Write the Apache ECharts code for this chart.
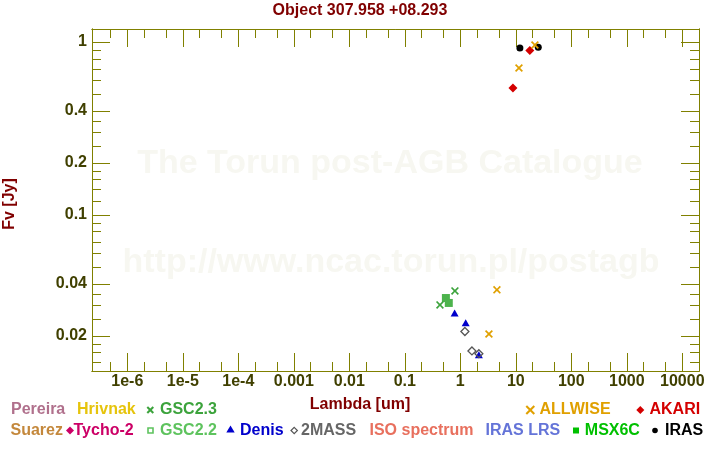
<!DOCTYPE html>
<html><head><meta charset="utf-8">
<script src="https://cdn.jsdelivr.net/npm/echarts@6/dist/echarts.min.js"></script>
<style>html,body{margin:0;padding:0;background:#fff}#c{width:720px;height:450px}</style>
</head><body><div id="c"></div>
<script>
// ---- tick positions and labels ----
const xTickValues = [1e-6, 1e-5, 1e-4, 0.001, 0.01, 0.1, 1, 10, 100, 1000, 10000];
const xTickLabels = ['1e-6', '1e-5', '1e-4', '0.001', '0.01', '0.1', '1', '10', '100', '1000', '10000'];
const xMinorTicks = [5e-7, 2e-6, 5e-6, 2e-5, 5e-5, 2e-4, 5e-4, 0.002, 0.005, 0.02, 0.05, 0.2, 0.5, 2, 5, 20, 50, 200, 500, 2000, 5000];
const yTickValues = [1, 0.4, 0.2, 0.1, 0.04, 0.02];
const yTickLabels = ['1', '0.4', '0.2', '0.1', '0.04', '0.02'];
const yMinorTicks = [0.014, 0.016, 0.018, 0.025, 0.03, 0.035, 0.05, 0.06, 0.07, 0.08, 0.09, 0.12, 0.14, 0.16, 0.18, 0.25, 0.3, 0.35, 0.5, 0.6, 0.7, 0.8, 0.9];
const xRange = [2.31e-7, 2e4];
const yRange = [0.01253, 1.189];

// ---- photometry: wavelength [um], flux [Jy] ----
const gsc22Lambda = [0.55, 0.62];
const gsc22Flux = [0.0331, 0.0310];
const gsc23Lambda = [0.43, 0.80];
const gsc23Flux = [0.0302, 0.0364];
const denisLambda = [0.79, 1.25, 2.16];
const denisFlux = [0.0271, 0.0238, 0.01557];
const twoMassLambda = [1.21, 1.62, 2.16];
const twoMassFlux = [0.0212, 0.01637, 0.01578];
const irasLambda = [11.85, 25.4];
const irasFlux = [0.923, 0.931];
const akariLambda = [8.87, 17.9];
const akariFlux = [0.542, 0.894];
const allwiseLambda = [3.28, 4.57, 11.4, 22.1];
const allwiseFlux = [0.0205, 0.0369, 0.707, 0.961];

const FONT = '"Liberation Sans", Arial, sans-serif';
const AXIS = '#808000';
const LABEL = '#404000';
const L = Math.log10;

function pts(lam, flux) { return lam.map((l, i) => [L(l), L(flux[i])]); }
function lookup(vals, labels) {
  return function (v) {
    for (let i = 0; i < vals.length; i++) if (Math.abs(L(vals[i]) - v) < 1e-6) return labels[i];
    return '';
  };
}
function axisCfg(kind, pos, ticks, len, labels) {
  const range = kind === 'x' ? xRange : yRange;
  const a = {
    type: 'value', position: pos, min: L(range[0]), max: L(range[1]),
    axisLine: { show: true, onZero: false, lineStyle: { color: AXIS, width: 1 } },
    axisTick: { show: true, inside: true, length: len, customValues: ticks.map(L), lineStyle: { color: AXIS, width: 1 } },
    axisLabel: { show: false },
    splitLine: { show: false }
  };
  if (labels) {
    a.axisLabel = {
      show: true, customValues: ticks.map(L),
      formatter: lookup(ticks, labels),
      color: LABEL, fontWeight: 'bold', fontSize: 16, fontFamily: FONT,
      margin: kind === 'x' ? 3 : 5
    };
  }
  return a;
}

const xSym = 'path://M0,1.5L1.5,0L5,3.5L8.5,0L10,1.5L6.5,5L10,8.5L8.5,10L5,6.5L1.5,10L0,8.5L3.5,5Z';

const chart = echarts.init(document.getElementById('c'), null, { renderer: 'canvas' });

function txt(x, y, text, color, extra) {
  return Object.assign({
    type: 'text', x: x, y: y, silent: true,
    style: { text: text, fill: color, font: 'bold 16px ' + FONT, align: 'left', verticalAlign: 'middle' }
  }, extra || {});
}
function poly(points, fill, stroke, lw) {
  return { type: 'polygon', silent: true, shape: { points: points }, style: { fill: fill || 'none', stroke: stroke || 'none', lineWidth: lw || 0 } };
}
function diamond(cx, cy, r, fill, stroke, lw) {
  return poly([[cx, cy - r], [cx + r, cy], [cx, cy + r], [cx - r, cy]], fill, stroke, lw);
}
function cross(cx, cy, r, color) {
  return [
    { type: 'line', silent: true, shape: { x1: cx - r, y1: cy - r, x2: cx + r, y2: cy + r }, style: { stroke: color, lineWidth: 2 } },
    { type: 'line', silent: true, shape: { x1: cx - r, y1: cy + r, x2: cx + r, y2: cy - r }, style: { stroke: color, lineWidth: 2 } }
  ];
}

const R1 = 410, R2 = 430.5;
const graphics = [
  // watermark
  { type: 'text', x: 390, y: 164, z: -10, silent: true, style: { text: 'The Torun post-AGB Catalogue', fill: '#f7f7f1', font: 'bold 34px ' + FONT, align: 'center', verticalAlign: 'middle' } },
  { type: 'text', x: 391, y: 263, z: -10, silent: true, style: { text: 'http://www.ncac.torun.pl/postagb', fill: '#f7f7f1', font: 'bold 34px ' + FONT, align: 'center', verticalAlign: 'middle' } },
  // axis names
  { type: 'text', x: 360, y: 405, silent: true, style: { text: 'Lambda [um]', fill: '#800000', font: 'bold 16px ' + FONT, align: 'center', verticalAlign: 'middle' } },
  { type: 'text', x: 10, y: 204, rotation: Math.PI / 2, silent: true, style: { text: 'Fv [Jy]', fill: '#800000', font: 'bold 16px ' + FONT, align: 'center', verticalAlign: 'middle' } },
  // legend row 1
  txt(11, R1, 'Pereira', '#b0708c'),
  txt(77, R1, 'Hrivnak', '#e6c40c'),
  ...cross(150.3, R1, 3, '#3ca33c'),
  txt(160, R1, 'GSC2.3', '#3ca33c'),
  ...cross(530.3, R1, 4, '#e0a000'),
  txt(539.5, R1, 'ALLWISE', '#e0a000'),
  diamond(640.3, R1, 4, '#d40000'),
  txt(649.5, R1, 'AKARI', '#d40000'),
  // legend row 2
  txt(10.5, R2, 'Suarez', '#c4883c'),
  diamond(70, R2, 4, '#cc0066'),
  txt(73.5, R2, 'Tycho-2', '#cc0066'),
  { type: 'rect', silent: true, shape: { x: 148, y: R2 - 2.5, width: 5, height: 5 }, style: { fill: 'none', stroke: '#5ec35e', lineWidth: 1.6 } },
  txt(160, R2, 'GSC2.2', '#5ec35e'),
  poly([[230.5, R2 - 5], [234.7, R2 + 2], [226.3, R2 + 2]], '#0000cc'),
  txt(240, R2, 'Denis', '#0000cc'),
  diamond(294.2, R2, 3.2, '#fff', '#555555', 1.2),
  txt(301, R2, '2MASS', '#666666'),
  txt(369.5, R2, 'ISO spectrum', '#e8705e'),
  txt(485.5, R2, 'IRAS LRS', '#6474d8'),
  { type: 'rect', silent: true, shape: { x: 573, y: R2 - 3, width: 6, height: 6 }, style: { fill: '#00c000' } },
  txt(584.8, R2, 'MSX6C', '#00c000'),
  { type: 'circle', silent: true, shape: { cx: 655, cy: R2, r: 2.8 }, style: { fill: '#000' } },
  txt(665, R2, 'IRAS', '#000000')
];

const option = {
  backgroundColor: '#ffffff',
  animation: false,
  title: {
    text: 'Object 307.958 +08.293', left: 'center', top: 3, padding: 0,
    textStyle: { color: '#800000', fontSize: 16, fontWeight: 'bold', fontFamily: FONT }
  },
  grid: { left: 92, top: 29, width: 607, height: 342, containLabel: false, show: false },
  xAxis: [
    axisCfg('x', 'bottom', xTickValues, 18, xTickLabels),
    axisCfg('x', 'bottom', xMinorTicks, 9, null),
    axisCfg('x', 'top', xTickValues, 18, null),
    axisCfg('x', 'top', xMinorTicks, 9, null)
  ],
  yAxis: [
    axisCfg('y', 'left', yTickValues, 18, yTickLabels),
    axisCfg('y', 'left', yMinorTicks, 9, null),
    axisCfg('y', 'right', yTickValues, 18, null),
    axisCfg('y', 'right', yMinorTicks, 9, null)
  ],
  graphic: graphics,
  series: [
    { type: 'scatter', name: 'GSC2.2', data: pts(gsc22Lambda, gsc22Flux), symbol: 'rect', symbolSize: 8, itemStyle: { color: '#4cb34c', opacity: 1 } },
    { type: 'scatter', name: 'GSC2.3', data: pts(gsc23Lambda, gsc23Flux), symbol: xSym, symbolSize: 8, itemStyle: { color: '#3ca33c', opacity: 1 } },
    { type: 'scatter', name: 'Denis', data: pts(denisLambda, denisFlux), symbol: 'triangle', symbolSize: [8, 7], itemStyle: { color: '#0000cc', opacity: 1 } },
    { type: 'scatter', name: '2MASS', data: pts(twoMassLambda, twoMassFlux), symbol: 'diamond', symbolSize: 8, itemStyle: { color: 'rgba(255,255,255,0)', borderColor: '#555555', borderWidth: 1.3, opacity: 1 } },
    { type: 'scatter', name: 'IRAS', data: pts(irasLambda, irasFlux), symbol: 'circle', symbolSize: 7, itemStyle: { color: '#000000', opacity: 1 } },
    { type: 'scatter', name: 'AKARI', data: pts(akariLambda, akariFlux), symbol: 'diamond', symbolSize: 9, itemStyle: { color: '#d40000', opacity: 1 } },
    { type: 'scatter', name: 'ALLWISE', data: pts(allwiseLambda, allwiseFlux), symbol: xSym, symbolSize: 8, itemStyle: { color: '#e0a000', opacity: 1 } }
  ]
};
chart.setOption(option);
</script>
</body></html>
